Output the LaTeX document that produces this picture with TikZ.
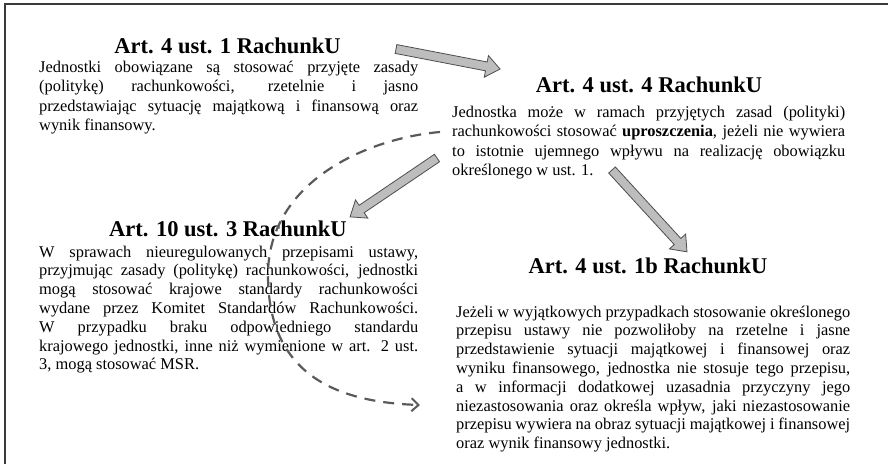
\documentclass[tikz,border=0pt]{standalone}
\usepackage{fontspec}
\setmainfont{Liberation Serif}
\usetikzlibrary{arrows.meta}
\definecolor{framegray}{HTML}{3A3A3A}
\definecolor{arrfill}{HTML}{BDBDBD}
\definecolor{arrline}{HTML}{4D4D4D}
\definecolor{dashgray}{HTML}{5A5A5A}
\protected\def\bodysetup{\hyphenpenalty=10000\relax\tolerance=10000\relax\emergencystretch=20pt\relax}
\tikzset{
  heading/.style={anchor=base, inner sep=0pt, font=\fontsize{22.5}{27}\selectfont\bfseries},
  bodytext/.style={anchor=base west, inner sep=0pt, align=justify,
    execute at begin node=\bodysetup},
  bodywide/.style={bodytext, font=\fontsize{16.4}{19.5}\selectfont},
  bodytight/.style={bodytext, font=\fontsize{16.4}{18.8}\selectfont},
  blockarr/.style={fill=arrfill, draw=arrline, line width=0.8pt, line join=miter},
  dashcurve/.style={draw=dashgray, line width=2.2pt, dash pattern=on 11pt off 8pt,
    -{Straight Barb[length=7pt,width=13pt,line width=2pt]}},
}
\newcommand{\blockarrowdraw}[3]{%
  \begin{scope}[shift={(#1)}, rotate=#2]
    \draw[blockarr] (0,-4.5) -- ({#3-14},-4.5) -- ({#3-14},-11) -- (#3,0)
      -- ({#3-14},11) -- ({#3-14},4.5) -- (0,4.5) -- cycle;
  \end{scope}}
\begin{document}
\begin{tikzpicture}[x=1pt,y=-1pt]
\useasboundingbox (0,0) rectangle (888,464);
\draw[framegray, line width=1.8pt] (5,464) -- (5,4) -- (888,4);

% box 1
\node[heading] (h1) at (227.5,53) {Art. 4 ust. 1 RachunkU};
\node[bodywide, text width=379pt] (b1) at (39,72) {Jednostki obowiązane są stosować przyjęte zasady\linebreak
(politykę) rachunkowości, rzetelnie i jasno\linebreak
przedstawiając sytuację majątkową i finansową oraz\linebreak
wynik finansowy.};

% box 2
\node[heading] (h2) at (649,92) {Art. 4 ust. 4 RachunkU};
\node[bodywide, text width=393pt] (b2) at (452,117) {Jednostka może w ramach przyjętych zasad (polityki)\linebreak
rachunkowości stosować \textbf{uproszczenia}, jeżeli nie wywiera\linebreak
to istotnie ujemnego wpływu na realizację obowiązku\linebreak
określonego w ust. 1.};

% box 3
\node[heading] (h3) at (228,236) {Art. 10 ust. 3 RachunkU};
\node[bodytight, text width=379pt] (b3) at (39,257) {W sprawach nieuregulowanych przepisami ustawy,\linebreak
przyjmując zasady (politykę) rachunkowości, jednostki\linebreak
mogą stosować krajowe standardy rachunkowości\linebreak
wydane przez Komitet Standardów Rachunkowości.\linebreak
W przypadku braku odpowiedniego standardu\linebreak
krajowego jednostki, inne niż wymienione w art. 2 ust.\linebreak
3, mogą stosować MSR.};

% box 4
\node[heading] (h4) at (648,273) {Art. 4 ust. 1b RachunkU};
\node[bodytight, text width=394pt] (b4) at (456,317) {Jeżeli w wyjątkowych przypadkach stosowanie określonego\linebreak
przepisu ustawy nie pozwoliłoby na rzetelne i jasne\linebreak
przedstawienie sytuacji majątkowej i finansowej oraz\linebreak
wyniku finansowego, jednostka nie stosuje tego przepisu,\linebreak
a w informacji dodatkowej uzasadnia przyczyny jego\linebreak
niezastosowania oraz określa wpływ, jaki niezastosowanie\linebreak
przepisu wywiera na obraz sytuacji majątkowej i finansowej\linebreak
oraz wynik finansowy jednostki.};

% block arrows
\coordinate (a1s) at (396,49);
\coordinate (a2s) at (437,158);
\coordinate (a3s) at (612,170);
\blockarrowdraw{a1s}{-10.9}{106}
\blockarrowdraw{a2s}{-145.9}{105}
\blockarrowdraw{a3s}{-47.5}{111}

% dashed curve
\coordinate (dstart) at (440,132);
\coordinate (dmid) at (268,275);
\coordinate (dend) at (420,405);
\draw[dashcurve] (dstart) .. controls (370,138) and (268,180) .. (dmid)
  .. controls (268,370) and (330,402) .. (dend);
\end{tikzpicture}
\end{document}
